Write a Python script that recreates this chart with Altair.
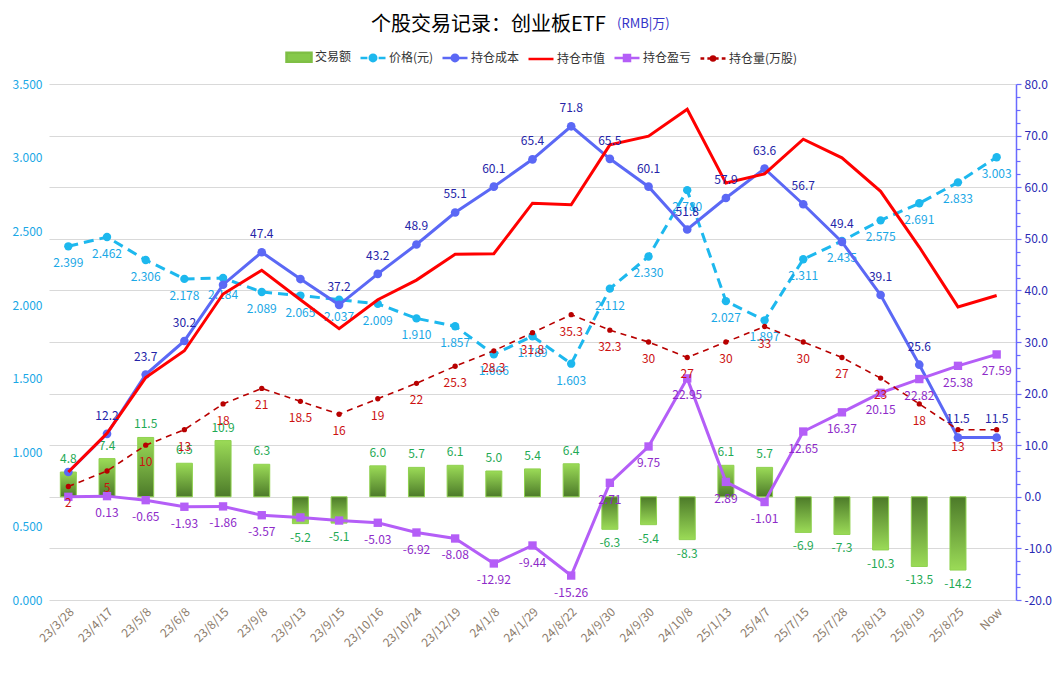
import altair as alt
import pandas as pd

# ---------------- data ----------------
dates = ["23/3/28", "23/4/17", "23/5/8", "23/6/8", "23/8/15", "23/9/8", "23/9/13",
         "23/9/15", "23/10/16", "23/10/24", "23/12/19", "24/1/8", "24/1/29",
         "24/8/22", "24/9/30", "24/9/30", "24/10/8", "25/1/13", "25/4/7",
         "25/7/15", "25/7/28", "25/8/13", "25/8/19", "25/8/25", "Now"]
amount = [4.8, 7.4, 11.5, 6.5, 10.9, 6.3, -5.2, -5.1, 6.0, 5.7, 6.1, 5.0, 5.4,
          6.4, -6.3, -5.4, -8.3, 6.1, 5.7, -6.9, -7.3, -10.3, -13.5, -14.2, None]
price = [2.399, 2.462, 2.306, 2.178, 2.184, 2.089, 2.065, 2.037, 2.009, 1.910,
         1.857, 1.666, 1.789, 1.603, 2.112, 2.330, 2.780, 2.027, 1.897, 2.311,
         2.435, 2.575, 2.691, 2.833, 3.003]
cost = [4.8, 12.2, 23.7, 30.2, 41.1, 47.4, 42.2, 37.2, 43.2, 48.9, 55.1, 60.1,
        65.4, 71.8, 65.5, 60.1, 51.8, 57.9, 63.6, 56.7, 49.4, 39.1, 25.6, 11.5, 11.5]
market = [4.8, 12.3, 23.1, 28.3, 39.3, 43.9, 38.2, 32.6, 38.2, 42.0, 47.0, 47.1,
          56.9, 56.6, 68.2, 69.9, 75.1, 60.8, 62.6, 69.3, 65.7, 59.2, 48.4, 36.8, 39.0]
pnl = [0.0, 0.13, -0.65, -1.93, -1.86, -3.57, -4.0, -4.6, -5.03, -6.92, -8.08,
       -12.92, -9.44, -15.26, 2.71, 9.75, 22.95, 2.89, -1.01, 12.65, 16.37, 20.15,
       22.82, 25.38, 27.59]
qty = [2, 5, 10, 13, 18, 21, 18.5, 16, 19, 22, 25.3, 28.3, 31.8, 35.3, 32.3, 30,
       27, 30, 33, 30, 27, 23, 18, 13, 13]
cost_hidden = [0, 4, 6]
pnl_hidden = [0, 6, 7]

series = ["交易额", "价格(元)", "持仓成本", "持仓市值", "持仓盈亏", "持仓量(万股)"]
title_text = "个股交易记录：创业板ETF"
unit_text = "(RMB|万)"

# ---------------- styling ----------------
FONT = "Noto Sans CJK SC"
C_BAR_LIGHT, C_BAR_DARK, C_BAR_STROKE = "#9bdb57", "#4c7a29", "#8fd14f"
C_BAR_LABEL = "#1faa55"
C_PRICE, C_PRICE_LABEL = "#1db8ee", "#1aa8e6"
C_COST, C_COST_LABEL = "#5b68f5", "#2424a8"
C_MARKET = "#ff0000"
C_PNL, C_PNL_LABEL = "#b45ef7", "#8e2bc9"
C_QTY, C_QTY_LABEL = "#b80000", "#cc1111"

df = pd.DataFrame({"i": list(range(len(dates))), "amount": amount, "price": price,
                   "cost": cost, "market": market, "pnl": pnl, "qty": qty})


def fmt(field, spec):
    # d3-format writes a true minus sign; the reference uses a plain hyphen
    return "replace(format(datum.%s, '%s'), '\u2212', '-')" % (field, spec)


label_expr = "[" + ",".join("'%s'" % d for d in dates) + "][datum.value]"
X = alt.X("i:O", scale=alt.Scale(paddingInner=0, paddingOuter=0),
          axis=alt.Axis(title=None, labelExpr=label_expr, labelAngle=-45,
                        domain=False, ticks=False, grid=False,
                        labelColor="#8b7b6b", labelFontSize=12, labelFont=FONT,
                        labelPadding=6))

yR = alt.Scale(domain=[-20, 80], nice=False, zero=False)
yL = alt.Scale(domain=[0, 3.5], nice=False, zero=False)

base = alt.Chart(df).transform_calculate(
    amount_t=fmt("amount", ".1f"), price_t=fmt("price", ".3f"),
    cost_t=fmt("cost", ".1f"), pnl_t=fmt("pnl", ".2f"), qty_t=fmt("qty", "~g"))


# ---------- bars (right scale, no axis) ----------
def grad(top, bottom):
    return alt.Gradient(gradient="linear",
                        stops=[alt.GradientStop(color=top, offset=0),
                               alt.GradientStop(color=bottom, offset=1)],
                        x1=0, x2=0, y1=0, y2=1)


yBar = alt.Y("amount:Q", scale=yR, axis=None)
bar_pos = base.transform_filter("datum.amount > 0").mark_bar(
    size=16, color=grad(C_BAR_LIGHT, C_BAR_DARK), stroke=C_BAR_STROKE, strokeWidth=1
).encode(x=X, y=yBar, y2=alt.datum(0))
bar_neg = base.transform_filter("datum.amount < 0").mark_bar(
    size=16, color=grad(C_BAR_DARK, C_BAR_LIGHT), stroke=C_BAR_STROKE, strokeWidth=1
).encode(x=X, y=yBar, y2=alt.datum(0))
lab_pos = base.transform_filter("datum.amount > 0").mark_text(
    dy=-13, font=FONT, fontSize=12, color=C_BAR_LABEL
).encode(x=X, y=yBar, text="amount_t:N")
lab_neg = base.transform_filter("datum.amount < 0").mark_text(
    dy=14, font=FONT, fontSize=12, color=C_BAR_LABEL
).encode(x=X, y=yBar, text="amount_t:N")
bars = alt.layer(bar_pos, bar_neg, lab_pos, lab_neg)

# ---------- price (left scale) ----------
yP = alt.Y("price:Q", scale=yL,
           axis=alt.Axis(orient="left", title=None, values=[0, 0.5, 1, 1.5, 2, 2.5, 3, 3.5],
                         format=".3f", grid=False, domain=False, ticks=False,
                         labelColor=C_PRICE_LABEL, labelFontSize=12, labelFont=FONT,
                         labelPadding=7))
price_line = base.mark_line(
    color=C_PRICE, strokeWidth=3, strokeDash=[10, 6],
    point=alt.OverlayMarkDef(filled=True, size=70, color=C_PRICE)
).encode(x=X, y=yP)
price_lab = base.mark_text(dy=17, font=FONT, fontSize=12, color=C_PRICE_LABEL).encode(
    x=X, y=yP, text="price_t:N")
price_g = alt.layer(price_line, price_lab)

# ---------- right-axis lines ----------
tick_vals = [-20 + 2.5 * k for k in range(41)]
major = "datum.value % 10 === 0"
right_axis = alt.Axis(
    orient="right", title=None, values=tick_vals,
    labelExpr="%s ? replace(format(datum.value, '.1f'), '\u2212', '-') : ''" % major,
    grid=True, gridColor="#d9d9d9", gridWidth=1,
    gridOpacity={"condition": {"test": major, "value": 1}, "value": 0},
    domain=True, domainColor="#6a6aff", domainWidth=1.5,
    ticks=True, tickColor="#6a6aff", tickWidth=1.2,
    tickSize={"condition": {"test": major, "value": 5}, "value": 4},
    labelColor="#2a2ab4", labelFontSize=12, labelFont=FONT, labelPadding=3)


def yr(field):
    return alt.Y(field + ":Q", scale=yR, axis=right_axis)


cost_line = base.mark_line(
    color=C_COST, strokeWidth=3,
    point=alt.OverlayMarkDef(filled=True, size=75, color=C_COST)
).encode(x=X, y=yr("cost"))
market_line = base.mark_line(color=C_MARKET, strokeWidth=3).encode(x=X, y=yr("market"))
pnl_line = base.mark_line(
    color=C_PNL, strokeWidth=3,
    point=alt.OverlayMarkDef(filled=True, size=70, shape="square", color=C_PNL)
).encode(x=X, y=yr("pnl"))
qty_line = base.mark_line(
    color=C_QTY, strokeWidth=1.6, strokeDash=[6, 5],
    point=alt.OverlayMarkDef(filled=True, size=28, color=C_QTY)
).encode(x=X, y=yr("qty"))


def hide(lst):
    return "indexof([%s], datum.i) < 0" % ",".join(str(v) for v in lst)


cost_lab = base.transform_filter(hide(cost_hidden)).mark_text(
    dy=-18, font=FONT, fontSize=12, color=C_COST_LABEL
).encode(x=X, y=yr("cost"), text="cost_t:N")
pnl_lab = base.transform_filter(hide(pnl_hidden)).mark_text(
    dy=17, font=FONT, fontSize=12, color=C_PNL_LABEL
).encode(x=X, y=yr("pnl"), text="pnl_t:N")
qty_lab = base.mark_text(dy=17, font=FONT, fontSize=12, color=C_QTY_LABEL).encode(
    x=X, y=yr("qty"), text="qty_t:N")

# ---------- legend (dummy invisible points carrying the legend) ----------
circ = "M-0.26,0A0.26,0.26,0,1,1,0.26,0A0.26,0.26,0,1,1,-0.26,0Z"
shapes = [
    "M-1,-0.36H1V0.36H-1Z",
    "M-1,0H-0.45M-0.15,0H0.15M0.45,0H1" + circ,
    "M-1,0H1" + circ,
    "M-1,0H1",
    "M-1,0H1M-0.24,-0.24H0.24V0.24H-0.24Z",
    "M-1,0H-0.7M-0.45,0H-0.15M0.15,0H0.45M0.7,0H1M-0.16,0A0.16,0.16,0,1,1,0.16,0A0.16,0.16,0,1,1,-0.16,0Z",
]
fills = ["#86c94a", C_PRICE, C_COST, C_MARKET, C_PNL, C_QTY]
strokes = ["#7fbf45", C_PRICE, C_COST, C_MARKET, C_PNL, C_QTY]
leg = alt.Legend(title=None, orient="none", legendX=236, legendY=-41, direction="horizontal",
                 symbolSize=625, symbolStrokeWidth=2.5, symbolOpacity=1,
                 labelFont=FONT, labelFontSize=12, labelColor="#333333",
                 labelOffset=2, columnPadding=3, padding=0)
legend_df = pd.DataFrame({"s": series})
legend_layer = alt.Chart(legend_df).mark_point(filled=True, opacity=0).encode(
    fill=alt.Fill("s:N", scale=alt.Scale(domain=series, range=fills), legend=leg),
    stroke=alt.Stroke("s:N", scale=alt.Scale(domain=series, range=strokes), legend=leg),
    shape=alt.Shape("s:N", scale=alt.Scale(domain=series, range=shapes), legend=leg),
)

unit = alt.Chart(pd.DataFrame({"t": [unit_text]})).mark_text(
    align="left", baseline="middle", font=FONT, fontSize=13, color="#3434c8"
).encode(x=alt.value(568), y=alt.value(-60), text="t:N")

lines_g = alt.layer(cost_line, market_line, pnl_line, qty_line,
                    cost_lab, pnl_lab, qty_lab, legend_layer, unit)

chart = alt.layer(bars, price_g, lines_g).resolve_scale(
    y="independent", fill="independent", stroke="independent", shape="independent"
).properties(
    width=967, height=516,
    autosize=alt.AutoSizeParams(type="none"),
    padding={"left": 41, "top": 76, "right": 40, "bottom": 72},
    title=alt.Title(title_text, font=FONT, fontSize=20, fontWeight="normal",
                    color="#000000", anchor="middle", dx=-44, offset=-17),
    background="white",
).configure_view(stroke=None)

chart.save("out.html", embed_options={"renderer": "svg", "actions": False})
